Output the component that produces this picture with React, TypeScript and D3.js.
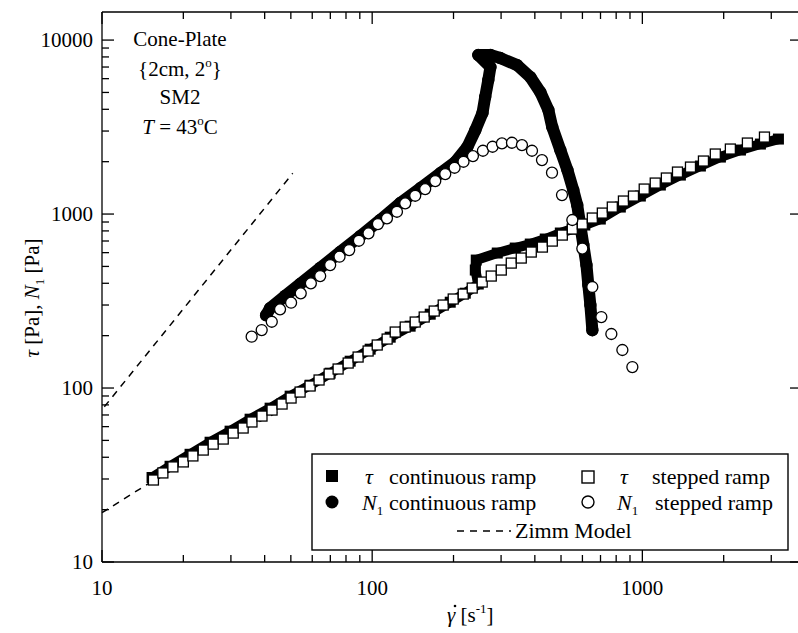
import React from 'react';
import * as d3 from 'd3';

// ---- data ----
// τ stepped ramp (open squares)
const tauStepRate = [15.5,16.8,18.3,20.0,21.7,23.7,25.8,28.1,30.6,33.3,35.9,39.1,42.6,46.4,50.1,54.1,58.9,63.6,69.3,74.8,81.5,88.7,96.6,104.4,113.6,121.7,132.5,144.3,155.8,169.7,183.2,199.5,217.3,234.6,255.4,275.9,300.5,327.2,356.3,388,426.6,464.2,505.5,550.5,599.5,652.8,711,774,851,927,1016,1116,1227,1349,1507,1683,1862,2117,2448,2831];
const tauStepStress = [29.6,32.5,35.2,37.6,40.7,44.0,47.6,50.9,55.1,58.9,63.8,69.0,74.7,80.9,87.6,94.8,102.7,111.2,120.4,128.6,139.2,150.7,163.2,176.7,191.2,209.8,224.2,239.5,255.9,277,299.9,324.8,346.8,375.5,406.5,440.2,476.6,522.6,558.6,604.8,645.9,699.3,757.2,820,876,948.6,1013,1097,1188,1269,1392,1507,1611,1743,1862,2017,2213,2364,2559,2770];

// N1 stepped ramp (open circles)
const n1StepRate = [35.8,39.0,42.5,45.6,50.1,54.4,59.3,64.2,69.9,75.7,82.2,89.3,96.9,105,113.4,123.5,132.5,144.3,157.1,171.2,186.4,201.8,217.8,236,257,279,302.2,329.2,358.4,390.4,425.1,463,504.2,550.6,599.5,652.8,705,767.8,843.4,918.3];
const n1StepValue = [197.2,215.4,240.4,283.4,309.3,350.2,399.6,440.2,509.3,568.5,621.1,702.5,774.8,876,944.8,1031,1152,1274,1392,1548,1698,1845,1998,2154,2311,2437,2548,2569,2492,2311,2043,1728,1286,924,633.5,380.7,255.9,204.4,165.4,132];

// N1 continuous ramp (filled circles)
const n1ContRate = [40.5,41.9,47.6,54.1,64.2,76.1,90.3,107,127,151,179,203,225,241,256,262,269,274,247,274,297.9,344,385,419,449,464,497,528,555,574,589,605,621,631,642,653];
const n1ContValue = [262,288,338,396,490,605,747,924,1157,1411,1720,1990,2427,3039,3806,4703,5888,6997,8203,8203,7882,7178,6124,5024,3960,3162,2333,1790,1374,1126,865,663,509,391,300,215];

// τ continuous ramp (filled squares)
const tauContRate = [15.32,17.86,21.18,25.12,29.79,35.33,41.9,49.7,58.94,69.89,82.89,98.3,116.6,138.2,164,194.5,221.1,247,240.8,242.8,290.4,338.5,384.7,437.2,497,550.6,612.4,698.9,828.9,983.1,1166,1383,1640,1945,2307,2735,3189];
const tauContStress = [30.6,35.5,41.6,48.8,56.5,66.2,76.6,89.8,103.8,121.7,142.6,167.2,196,226.7,265.7,311.4,350.8,396,476.6,543.9,596.9,637.6,672.3,718.4,777.9,820,864.7,936,1097,1269,1468,1675,1888,2126,2333,2525,2698];

// Zimm model lines
const zimmN1Rate = [10.2, 50.8];
const zimmN1Value = [78, 1714];
const zimmTauRate = [10, 15, 20, 30, 45];
const zimmTauStress = [19.2, 28.5, 37, 53, 73];

// ticks
const xMajorTicks = [10, 100, 1000];
const xTickLabels = ['10', '100', '1000'];
const xMinorTicks = [20, 30, 40, 50, 60, 70, 80, 90, 200, 300, 400, 500, 600, 700, 800, 900, 2000, 3000];
const yMajorTicks = [10, 100, 1000, 10000];
const yTickLabels = ['10', '100', '1000', '10000'];
const yMinorTicks = [20, 30, 40, 50, 60, 70, 80, 90, 200, 300, 400, 500, 600, 700, 800, 900, 2000, 3000, 4000, 5000, 6000, 7000, 8000, 9000];

const FONT = '"Liberation Serif", "Times New Roman", serif';

function zip(a: number[], b: number[]): [number, number][] {
  return a.map((v, i) => [v, b[i]]);
}

export default function App() {
  const left = 102, right = 799, top = 12, bottom = 562;
  const x = d3.scaleLog().domain([10, 3800]).range([left, right]);
  const y = d3.scaleLog().domain([10, 14500]).range([bottom, top]);
  const line = d3.line<[number, number]>().x(d => x(d[0])).y(d => y(d[1]));

  const tauStep = zip(tauStepRate, tauStepStress);
  const n1Step = zip(n1StepRate, n1StepValue);
  const n1Cont = zip(n1ContRate, n1ContValue);
  const tauCont = zip(tauContRate, tauContStress);
  const zN1 = zip(zimmN1Rate, zimmN1Value);
  const zTau = zip(zimmTauRate, zimmTauStress);

  const sq = 11;
  const ax = { stroke: '#000', strokeWidth: 1.3 };

  return (
    <svg width={798} height={633} style={{ position: 'absolute', left: 0, top: 0, display: 'block', background: '#fff' }}
      fontFamily={FONT}>
      <rect x={0} y={0} width={798} height={633} fill="#fff" />
      {/* frame */}
      <line x1={left} y1={top} x2={left} y2={bottom} {...ax} />
      <line x1={left} y1={bottom} x2={798} y2={bottom} {...ax} />
      <line x1={left} y1={top} x2={798} y2={top} {...ax} />

      {/* x ticks */}
      {xMajorTicks.map(t => (
        <g key={'xM' + t}>
          <line x1={x(t)} x2={x(t)} y1={bottom} y2={bottom - 12} {...ax} />
          <line x1={x(t)} x2={x(t)} y1={top} y2={top + 12} {...ax} />
        </g>
      ))}
      {xMinorTicks.map(t => (
        <g key={'xm' + t}>
          <line x1={x(t)} x2={x(t)} y1={bottom} y2={bottom - 7} {...ax} />
          <line x1={x(t)} x2={x(t)} y1={top} y2={top + 7} {...ax} />
        </g>
      ))}
      {xMajorTicks.map((t, i) => (
        <text key={'xl' + t} x={x(t)} y={595} fontSize={21} textAnchor="middle">{xTickLabels[i]}</text>
      ))}

      {/* y ticks */}
      {yMajorTicks.map(t => (
        <g key={'yM' + t}>
          <line x1={left} x2={left + 12} y1={y(t)} y2={y(t)} {...ax} />
          <line x1={right} x2={right - 9} y1={y(t)} y2={y(t)} {...ax} />
        </g>
      ))}
      {yMinorTicks.map(t => (
        <line key={'ym' + t} x1={left} x2={left + 7} y1={y(t)} y2={y(t)} {...ax} />
      ))}
      {yMajorTicks.map((t, i) => (
        <text key={'yl' + t} x={93} y={y(t) + 7} fontSize={21} textAnchor="end">{yTickLabels[i]}</text>
      ))}

      {/* axis titles */}
      <text transform="translate(39,298) rotate(-90)" fontSize={21} textAnchor="middle">
        <tspan fontStyle="italic">τ</tspan> [Pa], <tspan fontStyle="italic">N</tspan><tspan fontSize={13} dy={5}>1</tspan><tspan dy={-5}> [Pa]</tspan>
      </text>
      <text x={447} y={622} fontSize={21}>
        <tspan fontStyle="italic">γ</tspan> [s<tspan fontSize={13} dy={-9}>-1</tspan><tspan dy={9}>]</tspan>
      </text>
      <circle cx={455} cy={606} r={1.3} fill="#000" />

      {/* annotation */}
      <g fontSize={21} textAnchor="middle">
        <text x={180} y={46}>Cone-Plate</text>
        <text x={180} y={76}>{'{2cm, 2'}<tspan fontSize={13} dy={-9}>o</tspan><tspan dy={9}>{'}'}</tspan></text>
        <text x={180} y={104}>SM2</text>
        <text x={180} y={134}><tspan fontStyle="italic">T</tspan> = 43<tspan fontSize={13} dy={-9}>o</tspan><tspan dy={9}>C</tspan></text>
      </g>

      {/* Zimm model */}
      <path d={line(zN1) || ''} fill="none" stroke="#000" strokeWidth={1.5} strokeDasharray="7,6" />
      <path d={line(zTau) || ''} fill="none" stroke="#000" strokeWidth={1.5} strokeDasharray="7,6" />

      {/* N1 continuous ramp */}
      <path d={line(n1Cont) || ''} fill="none" stroke="#000" strokeWidth={12} strokeLinejoin="round" strokeLinecap="round" />
      {n1Cont.map((d, i) => (
        <circle key={'nc' + i} cx={x(d[0])} cy={y(d[1])} r={6.2} fill="#000" />
      ))}

      {/* tau continuous ramp */}
      <path d={line(tauCont) || ''} fill="none" stroke="#000" strokeWidth={10} strokeLinejoin="round" />
      {tauCont.map((d, i) => (
        <rect key={'tc' + i} x={x(d[0]) - sq / 2} y={y(d[1]) - sq / 2} width={sq} height={sq} fill="#000" />
      ))}

      {/* tau stepped ramp */}
      {tauStep.map((d, i) => (
        <rect key={'ts' + i} x={x(d[0]) - 5} y={y(d[1]) - 5} width={10} height={10} fill="#fff" stroke="#000" strokeWidth={1.3} />
      ))}

      {/* N1 stepped ramp */}
      {n1Step.map((d, i) => (
        <circle key={'ns' + i} cx={x(d[0])} cy={y(d[1])} r={5.5} fill="#fff" stroke="#000" strokeWidth={1.3} />
      ))}

      {/* legend */}
      <rect x={312} y={454} width={476} height={96} fill="#fff" stroke="#000" strokeWidth={1.4} />
      <g fontSize={22}>
        <rect x={326} y={470} width={12} height={12} fill="#000" />
        <text x={365} y={484} fontStyle="italic">τ</text>
        <text x={389} y={484}>continuous ramp</text>
        <rect x={582} y={471} width={12} height={12} fill="#fff" stroke="#000" strokeWidth={1.4} />
        <text x={620} y={484} fontStyle="italic">τ</text>
        <text x={652} y={484}>stepped ramp</text>

        <circle cx={332} cy={502} r={6.5} fill="#000" />
        <text x={362} y={510}><tspan fontStyle="italic">N</tspan><tspan fontSize={13} dy={5}>1</tspan></text>
        <text x={389} y={510}>continuous ramp</text>
        <circle cx={588} cy={502} r={6} fill="#fff" stroke="#000" strokeWidth={1.4} />
        <text x={617} y={510}><tspan fontStyle="italic">N</tspan><tspan fontSize={13} dy={5}>1</tspan></text>
        <text x={655} y={510}>stepped ramp</text>

        <line x1={457} x2={511} y1={531} y2={531} stroke="#000" strokeWidth={1.4} strokeDasharray="7,6" />
        <text x={515} y={538}>Zimm Model</text>
      </g>
    </svg>
  );
}
